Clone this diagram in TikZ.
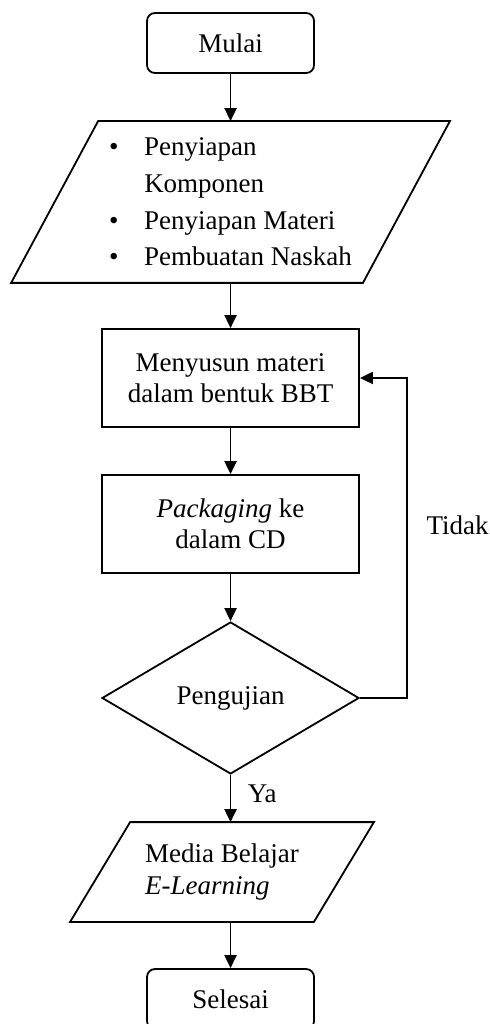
\documentclass[tikz,border=0pt]{standalone}
\usepackage{fontspec}
\setmainfont{Liberation Serif}
\usetikzlibrary{arrows.meta}
\usetikzlibrary{shapes.geometric}

\begin{document}
\begin{tikzpicture}[>={Triangle[length=5.8pt,width=5.4pt]}, line width=0.8pt,
    txt/.style={font=\fontsize{12}{13.8}\selectfont},
    term/.style={txt, draw, rounded corners=3.5pt, minimum width=2.609cm, minimum height=0.9375cm},
    proc/.style={txt, draw, align=center, minimum width=4.016cm, minimum height=1.531cm},
    io/.style={txt, align=left, inner sep=0pt},
    cond/.style={txt, draw, diamond, minimum width=4.016cm, minimum height=2.375cm, inner sep=0pt}]
        \useasboundingbox (0,0) rectangle (7.641,-16);
        \node [term] (mulai) at (3.602,-0.672) {Mulai};
        \node [io, minimum width=6.828cm, minimum height=2.5cm, font=\fontsize{12}{16.3}\selectfont] (siap) at (3.602,-3.156)
            {\makebox[15.6pt][l]{\textbullet}Penyiapan\\\hspace*{15.6pt}Komponen\\
             \makebox[15.6pt][l]{\textbullet}Penyiapan Materi\\\makebox[15.6pt][l]{\textbullet}Pembuatan Naskah};
        \node [proc] (bbt) at (3.602,-5.906) {Menyusun materi\\dalam bentuk BBT};
        \node [proc] (pack) at (3.602,-8.1875) {\textit{Packaging} ke\\dalam CD};
        \node [cond] (uji) at (3.602,-10.906) {Pengujian};
        \node [io, minimum width=4.719cm, minimum height=1.531cm, font=\fontsize{12}{14.2}\selectfont] (media) at (3.469,-13.625)
            {Media Belajar\\\textit{E-Learning}};
        \node [term] (selesai) at (3.602,-15.61) {Selesai};
        \coordinate (balik) at (6.359,-10.906);

        \draw ([xshift=1.359cm]siap.north west) -- (siap.north east) -- ([xshift=-1.359cm]siap.south east) -- (siap.south west) -- cycle;
        \draw ([xshift=0.9375cm]media.north west) -- (media.north east) -- ([xshift=-0.9375cm]media.south east) -- (media.south west) -- cycle;

        \draw [->] (mulai) -- (siap);
        \draw [->] (siap) -- (bbt);
        \draw [->] (bbt) -- (pack);
        \draw [->] (pack) -- (uji);
        \draw [->] (uji.south) -- node [txt, right, pos=0.39, xshift=4pt] {Ya} (uji.south |- media.north);
        \draw [->] (uji.south |- media.south) -- (selesai);
        \draw [->] (uji.east) -- (balik) |- node [txt, right, pos=0.27, xshift=5pt] {Tidak} (bbt.east);
    \end{tikzpicture}
\end{document}
